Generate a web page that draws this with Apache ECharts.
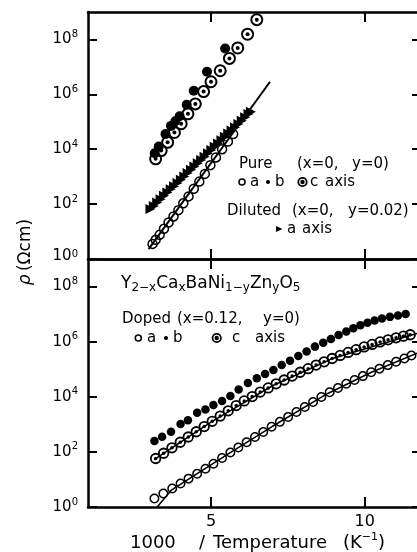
<!DOCTYPE html>
<html><head><meta charset="utf-8">
<script src="https://cdn.jsdelivr.net/npm/echarts@6/dist/echarts.min.js"></script>
<style>html,body{margin:0;padding:0;background:#fff}#c{width:417px;height:552px}</style>
</head><body><div id="c"></div>
<script>
const FONT = 'DejaVu Sans';
// ---------- tick values ----------
const xTicks = [5, 10];
const yTicks = [1, 1e2, 1e4, 1e6, 1e8];

// ---------- top panel: pure (x=0,y=0) and diluted (x=0,y=0.02) ----------
const pureA_x   = [3.10, 3.20, 3.33, 3.47, 3.62, 3.78, 3.94, 4.10, 4.27, 4.44, 4.62, 4.80, 4.98, 5.16, 5.36, 5.55, 5.72];
const pureA_rho = [3.55, 5.01, 7.59, 12.6, 21.4, 35.5, 60.3, 107, 191, 363, 661, 1260, 2630, 5010, 1.0e4, 1.9e4, 3.55e4];
const pureB_x   = [3.17, 3.30, 3.52, 3.70, 3.84, 3.98, 4.21, 4.44, 4.87, 5.46];
const pureB_rho = [7.08e3, 1.26e4, 3.55e4, 7.08e4, 1.05e5, 1.58e5, 4.17e5, 1.35e6, 6.61e6, 4.68e7];
const pureC_x   = [3.20, 3.38, 3.59, 3.81, 4.03, 4.25, 4.49, 4.76, 5.00, 5.30, 5.60, 5.87, 6.19, 6.49];
const pureC_rho = [4.47e3, 8.91e3, 1.78e4, 4.07e4, 8.51e4, 1.95e5, 4.47e5, 1.26e6, 2.88e6, 7.24e6, 2.04e7, 4.90e7, 1.55e8, 5.25e8];
const pureAfit_x   = [2.97, 6.92];
const pureAfit_rho = [2.29, 2.88e6];
const dilA_x   = [3.03, 3.14, 3.25, 3.36, 3.47, 3.58, 3.69, 3.80, 3.91, 4.02, 4.13, 4.24, 4.35, 4.46, 4.57, 4.68,
                  4.79, 4.90, 5.01, 5.12, 5.23, 5.34, 5.45, 5.56, 5.67, 5.78, 5.89, 6.00, 6.11, 6.22, 6.30];
const dilA_rho = [66.1, 85.1, 115, 151, 200, 263, 347, 447, 589, 776, 1020, 1350, 1780, 2340, 3090, 4070,
                  5370, 7080, 9330, 1.23e4, 1.62e4, 2.14e4, 2.82e4, 3.72e4, 4.79e4, 6.31e4, 8.32e4, 1.10e5, 1.45e5, 1.91e5, 2.34e5];

// ---------- bottom panel: doped (x=0.12, y=0) ----------
const dopA_x   = [3.16, 3.45, 3.74, 4.01, 4.27, 4.55, 4.82, 5.08, 5.36, 5.63, 5.89, 6.16, 6.43, 6.70, 6.97, 7.24,
                  7.51, 7.78, 8.05, 8.32, 8.59, 8.86, 9.13, 9.40, 9.67, 9.94, 10.21, 10.48, 10.75, 11.02, 11.29, 11.52];
const dopA_rho = [2.04, 3.09, 4.68, 7.08, 10.7, 16.2, 24.5, 37.2, 60.3, 95.5, 145, 224, 347, 525, 813, 1230,
                  1860, 2820, 4270, 6460, 9770, 1.45e4, 2.09e4, 2.95e4, 4.07e4, 5.62e4, 7.76e4, 1.05e5, 1.41e5, 1.86e5, 2.45e5, 3.16e5];
const dopB_x   = [3.16, 3.41, 3.70, 4.01, 4.25, 4.55, 4.82, 5.08, 5.36, 5.63, 5.90, 6.20, 6.49, 6.76, 7.03, 7.30,
                  7.57, 7.84, 8.11, 8.38, 8.65, 8.90, 9.15, 9.40, 9.63, 9.86, 10.09, 10.32, 10.56, 10.82, 11.08, 11.33];
const dopB_rho = [251, 355, 537, 1020, 1410, 2630, 3470, 5010, 7080, 1.07e4, 1.82e4, 3.16e4, 4.68e4, 6.76e4, 9.33e4, 1.41e5,
                  2.04e5, 3.02e5, 4.37e5, 6.61e5, 9.12e5, 1.26e6, 1.74e6, 2.34e6, 3.09e6, 3.98e6, 4.90e6, 5.89e6, 6.92e6, 7.94e6, 8.91e6, 1.00e7];
const dopC_x   = [3.20, 3.46, 3.73, 4.00, 4.26, 4.52, 4.78, 5.04, 5.30, 5.56, 5.82, 6.08, 6.34, 6.60, 6.86, 7.12, 7.38,
                  7.64, 7.90, 8.16, 8.42, 8.68, 8.94, 9.20, 9.46, 9.72, 9.98, 10.24, 10.50, 10.76, 11.02, 11.26, 11.48];
const dopC_rho = [57.5, 89.1, 141, 224, 347, 537, 832, 1290, 2000, 3090, 4790, 7080, 1.02e4, 1.48e4, 2.09e4, 2.95e4, 4.07e4,
                  5.62e4, 7.76e4, 1.05e5, 1.41e5, 1.86e5, 2.45e5, 3.16e5, 4.07e5, 5.13e5, 6.46e5, 7.94e5, 9.77e5, 1.17e6, 1.38e6, 1.58e6, 1.78e6];
const dopAfit_x   = [3.25, 3.70, 4.50, 5.60, 7.00, 8.80, 10.20, 11.70];
const dopAfit_rho = [1.0, 3.98, 15.1, 91, 851, 1.32e4, 7.59e4, 3.8e5];
const dopCfit_x   = [3.15, 5.00, 7.00, 9.00, 11.70];
const dopCfit_rho = [52.5, 1200, 2.51e4, 2.57e5, 2.0e6];

const zip = (xs, ys) => xs.map((x, i) => [x, ys[i]]);

const chart = echarts.init(document.getElementById('c'), null, {renderer: 'canvas'});

const lineStyleAxis = {color: '#000', width: 2.5};
function xAx(grid, pos, labels) {
  return {
    gridIndex: grid, type: 'value', min: 1, max: 11.7, position: pos,
    axisLine: {show: true, onZero: false, lineStyle: lineStyleAxis},
    axisTick: {show: true, inside: true, length: 10, customValues: xTicks, lineStyle: {color: '#000', width: 2}},
    axisLabel: labels ? {show: true, customValues: xTicks, color: '#000', fontFamily: FONT, fontSize: 16, margin: 7} : {show: false},
    splitLine: {show: false}
  };
}
function yAx(grid, pos, labels, liftZero) {
  return {
    gridIndex: grid, type: 'log', logBase: 10, min: 1, max: 1e9, position: pos,
    axisLine: {show: labels, onZero: false, lineStyle: lineStyleAxis},
    axisTick: {show: true, inside: true, length: labels ? 9 : 5, customValues: yTicks, lineStyle: {color: '#000', width: 2}},
    axisLabel: labels ? {
      show: true, customValues: yTicks, margin: 10,
      formatter: v => {
        const e = Math.round(Math.log10(v));
        return (liftZero && e === 0) ? '{b0|10}{s|0}' : '{b|10}{s|' + e + '}';
      },
      rich: {
        b: {fontFamily: FONT, fontSize: 15, color: '#000', lineHeight: 20, verticalAlign: 'middle'},
        b0: {fontFamily: FONT, fontSize: 15, color: '#000', lineHeight: 20, verticalAlign: 'top', padding: [0, 0, 8, 0]},
        s: {fontFamily: FONT, fontSize: 10, color: '#000', lineHeight: 10, verticalAlign: 'top'}
      }
    } : {show: false},
    splitLine: {show: false}
  };
}

const openCircle = (size, bw) => ({symbol: 'circle', symbolSize: size, itemStyle: {color: 'rgba(0,0,0,0)', borderColor: '#000', borderWidth: bw, opacity: 1}});
const filled = (size) => ({symbol: 'circle', symbolSize: size, itemStyle: {color: '#000', opacity: 1}});
function sc(xi, yi, data, style, z) {
  return Object.assign({type: 'scatter', xAxisIndex: xi, yAxisIndex: yi, data: data, silent: true, z: z || 2}, style);
}
function ln(xi, yi, data, w) {
  return {type: 'line', xAxisIndex: xi, yAxisIndex: yi, data: data, symbol: 'none', silent: true, z: 1,
          lineStyle: {color: '#000', width: w}};
}

const txt = (x, y, text, size, extra) => Object.assign({
  type: 'text', x: x, y: y, silent: true,
  style: Object.assign({text: text, fontFamily: FONT, fontSize: size || 15, fill: '#000', textAlign: 'left', textVerticalAlign: 'middle'}, extra || {})
});
const circ = (cx, cy, r, fill, lw) => ({type: 'circle', silent: true, shape: {cx: cx, cy: cy, r: r},
  style: fill ? {fill: '#000'} : {fill: 'none', stroke: '#000', lineWidth: lw || 1.5}});

const richMain = {fontFamily: FONT, fontSize: 17, fill: '#000', lineHeight: 20, verticalAlign: 'middle'};
const richSub = {fontFamily: FONT, fontSize: 12, fill: '#000', lineHeight: 8, verticalAlign: 'bottom'};

const option = {
  animation: false,
  backgroundColor: '#fff',
  grid: [
    {left: 88, top: 12, right: 0, height: 247},
    {left: 88, top: 259, right: 0, height: 248}
  ],
  xAxis: [xAx(0, 'bottom', false), xAx(0, 'top', false), xAx(1, 'bottom', true), xAx(1, 'top', false)],
  yAxis: [yAx(0, 'left', true, true), yAx(0, 'right', false), yAx(1, 'left', true, false), yAx(1, 'right', false)],
  series: [
    // top panel
    ln(0, 0, zip(pureAfit_x, pureAfit_rho), 2),
    sc(0, 0, zip(pureA_x, pureA_rho), openCircle(9, 1.5)),
    sc(0, 0, zip(dilA_x, dilA_rho), {symbol: 'triangle', symbolSize: 10, symbolRotate: -90, itemStyle: {color: '#000', opacity: 1}}),
    sc(0, 0, zip(pureB_x, pureB_rho), filled(10)),
    sc(0, 0, zip(pureC_x, pureC_rho), openCircle(11, 2), 3),
    sc(0, 0, zip(pureC_x, pureC_rho), filled(4), 4),
    // bottom panel
    ln(2, 2, zip(dopAfit_x, dopAfit_rho), 1.5),
    ln(2, 2, zip(dopCfit_x, dopCfit_rho), 1.5),
    sc(2, 2, zip(dopA_x, dopA_rho), openCircle(8.5, 1.5)),
    sc(2, 2, zip(dopB_x, dopB_rho), filled(8.5)),
    sc(2, 2, zip(dopC_x, dopC_rho), openCircle(9.5, 1.8), 3),
    sc(2, 2, zip(dopC_x, dopC_rho), filled(3.5), 4)
  ],
  graphic: {elements: [
    // axis titles
    {type: 'text', x: 26, y: 252, rotation: Math.PI / 2, silent: true,
     style: {text: '{i|ρ} {n|(Ωcm)}', textAlign: 'center', textVerticalAlign: 'middle', fill: '#000',
             rich: {i: {fontFamily: FONT, fontSize: 17, fontStyle: 'italic', fill: '#000'}, n: {fontFamily: FONT, fontSize: 17, fill: '#000'}}}},
    txt(130, 543, '1000', 18), txt(202, 543, '/', 18, {textAlign: 'center'}), txt(213, 543, 'Temperature', 18),
    {type: 'text', x: 343, y: 543, silent: true,
     style: {text: '{m|(K}{s|−1}{m|)}', textAlign: 'left', textVerticalAlign: 'middle', fill: '#000',
             rich: {m: {fontFamily: FONT, fontSize: 18, fill: '#000', lineHeight: 22, verticalAlign: 'middle'},
                    s: {fontFamily: FONT, fontSize: 11, fill: '#000', lineHeight: 10, verticalAlign: 'top'}}}},
    // top legend
    txt(239, 164, 'Pure'), txt(297, 164, '(x=0,'), txt(352, 164, 'y=0)'),
    circ(242, 182, 3, false, 1.5), txt(250, 182, 'a'),
    circ(268, 182, 2, true), txt(275, 182, 'b'),
    circ(302.5, 182, 4.2, false, 1.8), circ(302.5, 182, 2.2, true), txt(310, 182, 'c'),
    txt(325, 182, 'axis'),
    txt(227, 211.5, 'Diluted'), txt(292, 211.5, '(x=0,'), txt(348, 211.5, 'y=0.02)'),
    {type: 'polygon', silent: true, shape: {points: [[276, 226], [282.5, 229], [276, 232]]}, style: {fill: '#000'}},
    txt(287, 229, 'a'), txt(302, 229, 'axis'),
    // bottom legend
    {type: 'text', x: 121, y: 284, silent: true,
     style: {text: '{m|Y}{s|2−x}{m|Ca}{s|x}{m|BaNi}{s|1−y}{m|Zn}{s|y}{m|O}{s|5}', textAlign: 'left', textVerticalAlign: 'middle', fill: '#000',
             rich: {m: richMain, s: richSub}}},
    txt(122, 319.5, 'Doped'), txt(177, 319.5, '(x=0.12,'), txt(263, 319.5, 'y=0)'),
    circ(138.3, 338, 3, false, 1.5), txt(147, 338, 'a'),
    circ(166, 338, 2, true), txt(173, 338, 'b'),
    circ(216.7, 338, 4.2, false, 1.8), circ(216.7, 338, 2.2, true), txt(232, 338, 'c'),
    txt(255, 338, 'axis')
  ]}
};
chart.setOption(option);
</script>
</body></html>
